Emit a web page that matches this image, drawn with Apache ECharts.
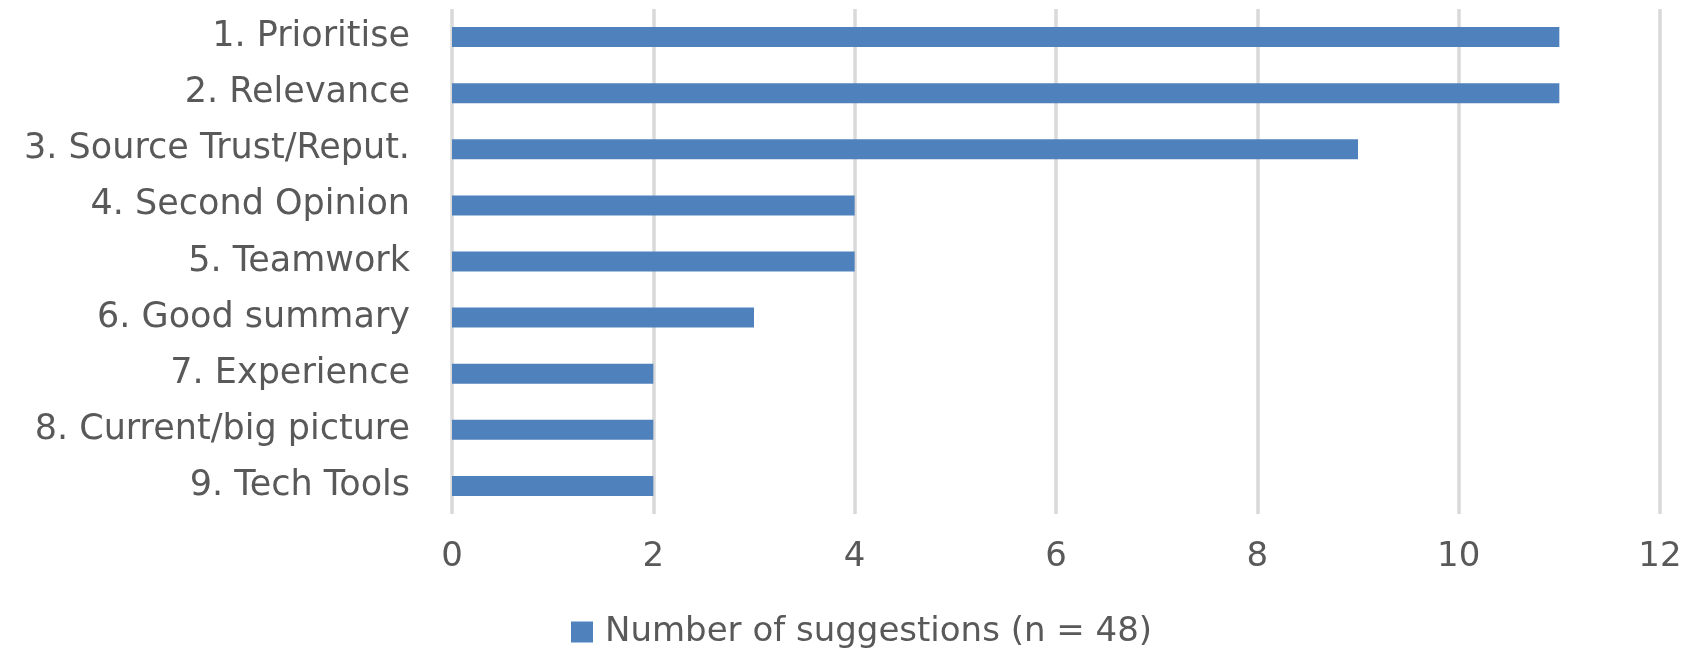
<!DOCTYPE html>
<html>
<head>
<meta charset="utf-8">
<script src="https://cdn.jsdelivr.net/npm/echarts@6/dist/echarts.min.js"></script>
<style>
html,body{margin:0;padding:0;background:#fff;}
#chart{width:1691px;height:649px;}
</style>
</head>
<body>
<div id="chart"></div>
<script>
const categories = ["1. Prioritise","2. Relevance","3. Source Trust/Reput.","4. Second Opinion","5. Teamwork","6. Good summary","7. Experience","8. Current/big picture","9. Tech Tools"];
const values = [11, 11, 9, 4, 4, 3, 2, 2, 2];
const seriesName = "Number of suggestions (n = 48)";
const xTicks = [0, 2, 4, 6, 8, 10, 12];

const chart = echarts.init(document.getElementById('chart'));
const font = 'DejaVu Sans';
const textColor = '#595959';
chart.setOption({
  animation: false,
  backgroundColor: '#ffffff',
  grid: { left: 452, right: 31, top: 9, bottom: 135, containLabel: false },
  xAxis: {
    type: 'value',
    min: xTicks[0],
    max: xTicks[xTicks.length - 1],
    interval: xTicks[1] - xTicks[0],
    axisLine: { show: false },
    axisTick: { show: false },
    axisLabel: { color: textColor, fontFamily: font, fontSize: 34, margin: 26 },
    splitLine: { show: true, lineStyle: { color: '#d9d9d9', width: 3.5 } }
  },
  yAxis: {
    type: 'category',
    data: categories,
    inverse: true,
    axisLine: { show: false },
    axisTick: { show: false },
    axisLabel: { color: textColor, fontFamily: font, fontSize: 35, margin: 42 }
  },
  legend: {
    show: true,
    left: 566,
    top: 610,
    icon: 'rect',
    itemWidth: 22,
    itemHeight: 21,
    textStyle: { color: textColor, fontFamily: font, fontSize: 34, padding: [0, 0, 0, 7] },
    data: [seriesName]
  },
  series: [{
    name: seriesName,
    type: 'bar',
    data: values,
    barWidth: 20,
    itemStyle: { color: '#4f81bd' }
  }]
});
</script>
</body>
</html>
